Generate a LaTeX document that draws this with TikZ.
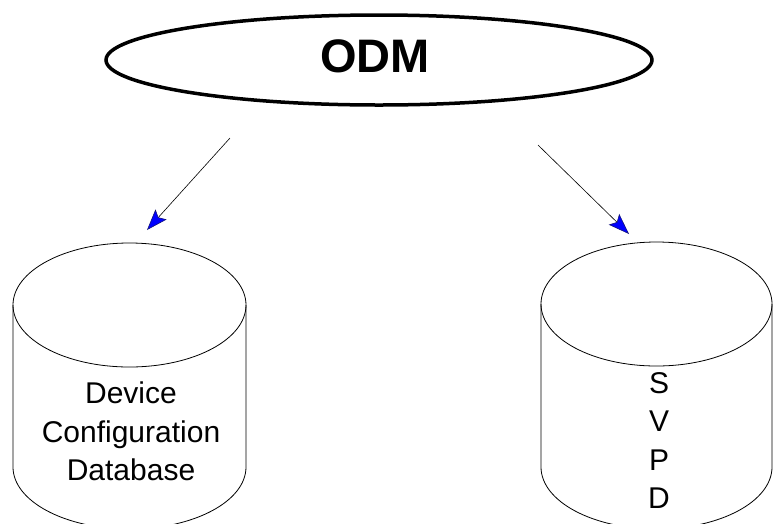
\documentclass[tikz,border=0pt]{standalone}
\usepackage{fontspec}
\setmainfont{Liberation Sans}
\usetikzlibrary{shapes.geometric,arrows.meta}
\definecolor{tipblue}{RGB}{0,0,255}
\definecolor{tipedge}{RGB}{20,20,120}
\tikzset{
  bigoval/.style={ellipse, draw, line width=3.5pt, minimum width=546pt, minimum height=90pt, inner sep=0pt},
  oval label/.style={font=\fontsize{47}{50}\selectfont\bfseries},
  drum/.style={draw, line width=0.8pt},
  drum label/.style={font=\fontsize{30}{38.6}\selectfont, align=center, inner sep=0pt},
  headtip/.tip={Stealth[length=21pt,width=15pt,inset=4pt,fill=tipblue,color=tipedge,line width=0.6pt]},
  flow/.style={draw, line width=0.6pt, -headtip}
}
\begin{document}
\begin{tikzpicture}[x=1pt,y=-1pt]
  \useasboundingbox (0,0) rectangle (776,523);
  % top oval
  \node[bigoval] (odm) at (379,60) {};
  \node[oval label, anchor=base] (odmtext) at (375,72) {ODM};

  % left drum
  \draw[drum] (129.5,305) ellipse [x radius=116.5pt, y radius=62pt];
  \draw[drum] (13,305) -- (13,467) arc[start angle=180, end angle=360, x radius=116.5pt, y radius=62pt] -- (246,305);
  \node[drum label, anchor=north] (dcdb) at (131,381.5) {Device\\Configuration\\Database};

  % right drum
  \draw[drum] (656.5,304) ellipse [x radius=115.5pt, y radius=62pt];
  \draw[drum] (541,304) -- (541,467) arc[start angle=180, end angle=360, x radius=115.5pt, y radius=62pt] -- (772,304);
  \node[drum label, anchor=north] (svpd) at (659,372) {S\\V\\P\\D};

  % connectors
  \coordinate (la) at (230,138);
  \coordinate (lb) at (147,230);
  \coordinate (ra) at (538,145);
  \coordinate (rb) at (629,234);
  \draw[flow] (la) -- (lb);
  \draw[flow] (ra) -- (rb);
\end{tikzpicture}
\end{document}
